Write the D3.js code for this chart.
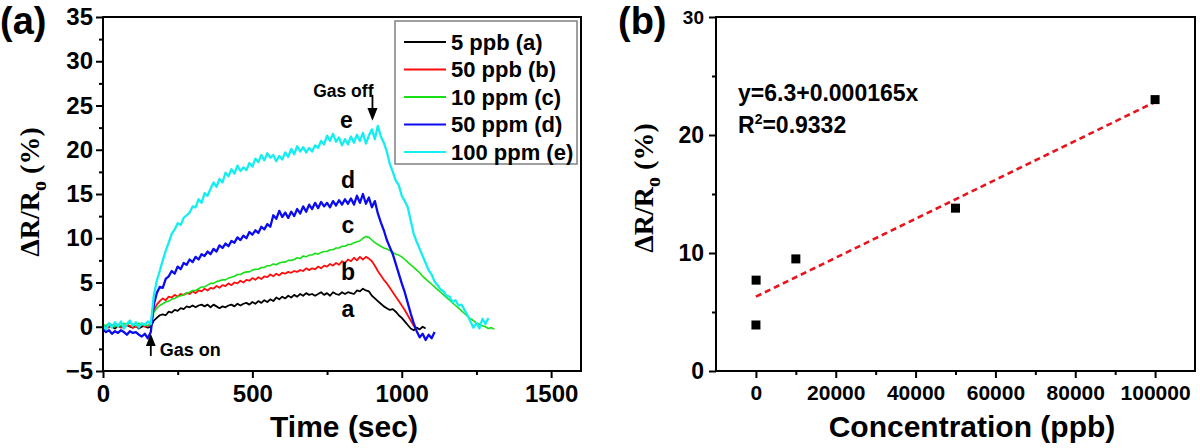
<!DOCTYPE html>
<html>
<head>
<meta charset="utf-8">
<script src="https://cdnjs.cloudflare.com/ajax/libs/d3/7.8.5/d3.min.js"></script>
<style>
  body { margin: 0; background: #fff; }
  svg { display: block; font-family: "Liberation Sans", Arial, sans-serif; font-weight: bold; }
</style>
</head>
<body>
<svg width="1200" height="448"></svg>
<script>
// ---- panel (a): response vs time, one value every 10 s from t = 0
var timeStep = 10
var seriesNames = ['5 ppb (a)', '50 ppb (b)', '10 ppm (c)', '50 ppm (d)', '100 ppm (e)']
var seriesColors = ['#000000', '#ff0d0d', '#16e016', '#0b0bf0', '#14eef0']
var seriesWidths = [1.8, 1.8, 1.6, 2.3, 2.3]
var curveLetters = ['a', 'b', 'c', 'd', 'e']
// where the small letters sit: [time, value]
var curveLetterPos = [[820, 1.1], [820, 5.3], [820, 10.6], [820, 15.7], [815, 22.5]]

var respA = [0.1,-0.1,0.2,0,-0.2,0.1,0,-0.1,0.2,0,-0.1,0.1,-0.2,0,0.1,-0.1,
  0.0,0.7,1.0,1.3,1.4,1.3,1.7,1.6,1.9,1.8,
  2.1,2.0,2.3,2.2,2.4,2.2,2.4,2.5,2.3,2.5,
  2.2,2.5,2.3,2.1,2.3,2.2,2.4,2.5,2.3,2.6,
  2.4,2.6,2.7,2.5,2.8,2.6,2.9,2.7,3.0,2.8,
  3.1,2.9,3.3,3.1,3.4,3.2,3.5,3.3,3.6,3.4,
  3.7,3.5,3.8,3.6,3.7,3.5,3.7,3.9,3.6,3.8,
  3.5,3.9,3.7,3.6,3.9,3.7,3.9,3.8,3.7,4.1,
  4.0,4.3,4.1,4.0,3.5,3.2,2.9,2.6,2.3,2.1,
  1.9,2.0,1.7,1.3,1.0,0.6,0.2,-0.2,-0.4,-0.1,
  -0.3,0.0,-0.2]

var respB = [0,0.1,-0.1,0.2,0,0.1,-0.1,0,0.2,0.1,-0.1,0,0.1,0.2,0,0.1,
  0.3,1.9,2.5,2.9,3.2,3.0,3.4,3.3,3.6,3.4,
  3.7,3.6,3.8,3.7,4.0,3.8,4.1,4.0,4.3,4.1,
  4.4,4.3,4.6,4.4,4.7,4.6,4.9,4.7,5.0,4.9,
  5.2,5.0,5.3,5.2,5.5,5.3,5.6,5.4,5.7,5.6,
  5.9,5.7,6.0,5.8,6.1,6.0,6.2,6.1,6.3,6.2,
  6.4,6.3,6.6,6.4,6.6,6.5,6.8,6.6,6.9,6.8,
  7.1,6.9,7.2,7.0,7.4,7.2,7.6,7.4,7.8,7.5,
  7.9,7.6,7.9,7.7,7.4,6.9,6.3,5.8,5.3,4.9,
  4.4,3.9,3.4,2.9,2.4,1.9,1.3,0.7,0.1,-0.4]

var respC = [0.3,0.1,0.4,0.2,0,0.3,0.1,0.4,0.2,0.5,0.3,0.1,0.4,0.2,0.3,0.1,
  0.3,1.6,2.1,2.4,2.6,2.8,2.9,3.1,3.2,3.4,
  3.5,3.6,3.8,3.9,4.1,4.1,4.3,4.5,4.5,4.7,
  4.9,4.9,5.1,5.2,5.3,5.3,5.5,5.6,5.7,5.9,
  5.9,6.1,6.2,6.2,6.4,6.5,6.5,6.7,6.7,6.9,
  6.9,7.1,7.0,7.2,7.3,7.3,7.5,7.5,7.6,7.8,
  7.7,8.0,7.9,8.1,8.1,8.3,8.2,8.4,8.5,8.5,
  8.7,8.7,8.9,8.9,9.1,9.1,9.3,9.3,9.5,9.6,
  9.7,10.0,10.2,10.1,9.8,9.5,9.3,9.1,8.9,8.8,
  8.6,8.4,8.2,8.1,7.9,7.6,7.3,7.0,6.7,6.4,
  6.1,5.7,5.4,5.1,4.8,4.5,4.2,3.9,3.6,3.3,
  3.0,2.7,2.4,2.1,1.8,1.5,1.2,0.9,0.7,0.4,
  0.3,0.1,0.0,-0.2,-0.1,-0.3]

var respD = [-0.3,-0.6,-0.4,-0.8,-0.5,-0.7,-0.4,-0.6,-0.9,-0.5,-0.7,-0.6,-0.9,-1.1,-0.8,-1.3,
  -0.6,2.5,3.8,4.5,4.4,5.4,5.7,6.3,6.0,6.8,
  6.5,7.2,7.0,7.6,7.3,7.9,7.6,8.2,8.0,8.5,
  8.2,8.8,8.5,9.2,8.9,9.4,9.1,9.7,9.5,10.1,
  9.8,10.3,10.0,10.7,10.4,10.9,10.6,11.3,11.0,11.6,
  11.3,12.6,12.2,13.1,12.4,12.9,12.3,13.0,12.5,13.3,
  12.8,13.6,13.0,13.8,13.3,14.0,13.4,14.1,13.6,14.0,
  13.5,14.2,13.7,14.3,13.8,14.4,13.9,14.5,13.8,14.8,
  14.0,15.0,13.9,14.6,13.5,14.2,12.8,11.8,10.9,9.8,
  9.0,8.2,7.1,6.0,4.9,3.9,2.7,1.5,0.4,-0.5,
  -1.2,-0.8,-1.5,-0.9,-1.3,-0.6]

var respE = [0.2,-0.3,0.4,-0.1,0.5,0.0,0.6,-0.2,0.3,0.7,0.1,0.5,-0.1,0.4,0.2,0.6,
  0.3,3.5,5.2,6.3,7.5,8.6,9.5,10.5,11.0,11.7,
  11.5,12.3,12.6,12.9,13.6,13.5,14.4,14.0,15.1,14.8,
  15.6,16.3,15.8,16.7,16.3,17.4,17.0,17.8,17.3,18.2,
  17.6,18.0,17.7,18.5,18.1,19.0,18.6,19.4,18.8,19.6,
  19.1,19.4,18.7,19.3,18.9,19.7,19.2,20.1,19.5,20.4,
  19.8,20.3,19.7,20.2,19.8,20.5,20.2,21.0,20.6,21.6,
  21.0,21.8,20.9,21.4,20.5,21.2,20.6,21.5,20.8,21.7,
  21.0,21.9,20.7,21.6,22.3,21.2,22.7,21.5,20.8,19.8,
  18.4,17.5,16.5,16.0,14.8,14.2,13.5,12.0,10.5,9.6,
  8.8,8.0,7.2,6.4,5.9,5.1,4.7,4.2,4.0,3.5,
  3.4,2.8,3.0,2.4,2.5,1.9,1.3,0.6,-0.1,0.4,
  -0.2,0.9,0.3,1.0]

var timeTicks = [0, 500, 1000, 1500]
var respTicks = [-5, 0, 5, 10, 15, 20, 25, 30, 35]
var gasOn = 160, gasOff = 902

// ---- panel (b): response vs concentration
var concentration = [5, 50, 10000, 50000, 100000]
var response = [3.9, 7.7, 9.5, 13.8, 23.0]
var fitIntercept = 6.3, fitSlope = 0.000165
var fitSpan = [0, 100000]
var concTicks = [0, 20000, 40000, 60000, 80000, 100000]
var concRespTicks = [0, 10, 20, 30]

var svg = d3.select('svg')
var plotTop = 17, plotBottom = 371

function tickStyle(g, size) {
  g.select('.domain').remove()
  g.selectAll('line').attr('stroke', '#000').attr('stroke-width', 2)
  g.selectAll('text').attr('font-size', size).attr('font-weight', 'bold')
    .attr('font-family', '"Liberation Sans", Arial, sans-serif').attr('fill', '#000')
}

function yTitle(x, y) {
  var t = svg.append('text')
    .attr('transform', 'translate(' + x + ',' + y + ') rotate(-90)')
    .attr('text-anchor', 'middle')
    .attr('font-family', '"Liberation Serif", "Times New Roman", serif')
    .attr('font-weight', 'bold').attr('font-size', 28)
  t.append('tspan').text('\u0394R/R')
  t.append('tspan').attr('dy', 7).attr('font-size', 20).text('o')
  t.append('tspan').attr('dy', -7).text(' (%)')
}

// ================= panel (a)
var xa = d3.scaleLinear().domain([0, 1600]).range([103, 581])
var ya = d3.scaleLinear().domain([-5, 35]).range([plotBottom, plotTop])

var minorTime = d3.range(250, 1600, 500)
var minorResp = d3.range(-2.5, 35, 5)

svg.append('g').attr('transform', 'translate(0,' + plotBottom + ')')
  .call(d3.axisBottom(xa).tickValues(minorTime).tickSize(4).tickFormat(''))
  .call(tickStyle, 0)
svg.append('g').attr('transform', 'translate(0,' + plotBottom + ')')
  .call(d3.axisBottom(xa).tickValues(timeTicks).tickSize(7).tickPadding(7).tickFormat(d3.format('d')))
  .call(tickStyle, 24)
svg.append('g').attr('transform', 'translate(103,0)')
  .call(d3.axisLeft(ya).tickValues(minorResp).tickSize(4).tickFormat(''))
  .call(tickStyle, 0)
svg.append('g').attr('transform', 'translate(103,0)')
  .call(d3.axisLeft(ya).tickValues(respTicks).tickSize(7).tickPadding(3).tickFormat(d3.format('d')))
  .call(tickStyle, 24)

var allSeries = [respA, respB, respC, respD, respE]
var line = d3.line()
  .x(function(d, i) { return xa(i * timeStep) })
  .y(function(d) { return ya(d) })

svg.append('g').selectAll('path')
  .data(allSeries)
  .enter()
  .append('path')
  .attr('d', function(d) { return line(d) })
  .attr('fill', 'none')
  .attr('stroke', function(d, i) { return seriesColors[i] })
  .attr('stroke-width', function(d, i) { return seriesWidths[i] })
  .attr('stroke-linejoin', 'round')

svg.append('rect')
  .attr('x', 103).attr('y', plotTop).attr('width', 581 - 103).attr('height', plotBottom - plotTop)
  .attr('fill', 'none').attr('stroke', '#000').attr('stroke-width', 2)

// legend
var legend = svg.append('g')
legend.append('rect')
  .attr('x', 395).attr('y', 21).attr('width', 182).attr('height', 143)
  .attr('fill', '#fff').attr('stroke', '#808080').attr('stroke-width', 1.5)
var rows = legend.selectAll('g.row')
  .data(seriesNames)
  .enter()
  .append('g').attr('class', 'row')
  .attr('transform', function(d, i) { return 'translate(0,' + (42 + i * 27.5) + ')' })
rows.append('line')
  .attr('x1', 404).attr('x2', 446)
  .attr('stroke', function(d, i) { return seriesColors[i] }).attr('stroke-width', 2)
rows.append('text')
  .attr('x', 451).attr('dy', '0.36em')
  .attr('font-size', 22).text(function(d) { return d })

// curve letters
svg.append('g').selectAll('text')
  .data(curveLetters)
  .enter()
  .append('text')
  .attr('x', function(d, i) { return xa(curveLetterPos[i][0]) })
  .attr('y', function(d, i) { return ya(curveLetterPos[i][1]) })
  .attr('text-anchor', 'middle').attr('font-size', 23)
  .text(function(d) { return d })

// gas on / gas off arrows
svg.append('defs').append('marker')
  .attr('id', 'head').attr('viewBox', '0 0 10 10')
  .attr('refX', 5).attr('refY', 5).attr('markerWidth', 7).attr('markerHeight', 9)
  .attr('orient', 'auto')
  .append('path').attr('d', 'M0,1 L10,5 L0,9 Z').attr('fill', '#000')

svg.append('line')
  .attr('x1', xa(gasOn)).attr('x2', xa(gasOn))
  .attr('y1', ya(-3.3)).attr('y2', ya(-1.5))
  .attr('stroke', '#000').attr('stroke-width', 1.8).attr('marker-end', 'url(#head)')
svg.append('text')
  .attr('x', xa(gasOn) + 9).attr('y', ya(-3.3))
  .attr('font-size', 18).text('Gas on')

svg.append('line')
  .attr('x1', xa(gasOff)).attr('x2', xa(gasOff))
  .attr('y1', ya(26.2)).attr('y2', ya(24.0))
  .attr('stroke', '#000').attr('stroke-width', 1.8).attr('marker-end', 'url(#head)')
svg.append('text')
  .attr('x', xa(gasOff) + 1).attr('y', 97)
  .attr('text-anchor', 'end')
  .attr('font-size', 17.5).text('Gas off')

svg.append('text')
  .attr('x', 344).attr('y', 437).attr('text-anchor', 'middle')
  .attr('font-size', 30).text('Time (sec)')
yTitle(39, 192)
svg.append('text').attr('x', 0).attr('y', 34).attr('font-size', 38).text('(a)')

// ================= panel (b)
var xb = d3.scaleLinear().domain([-10000, 110000]).range([716, 1195])
var yb = d3.scaleLinear().domain([0, 30]).range([plotBottom, plotTop])

svg.append('g').attr('transform', 'translate(0,' + plotBottom + ')')
  .call(d3.axisBottom(xb).tickValues(d3.range(10000, 100000, 20000)).tickSize(4).tickFormat(''))
  .call(tickStyle, 0)
svg.append('g').attr('transform', 'translate(0,' + plotBottom + ')')
  .call(d3.axisBottom(xb).tickValues(concTicks).tickSize(7).tickPadding(7).tickFormat(d3.format('d')))
  .call(tickStyle, 21)
svg.append('g').attr('transform', 'translate(716,0)')
  .call(d3.axisLeft(yb).tickValues([5, 15, 25]).tickSize(4).tickFormat(''))
  .call(tickStyle, 0)
var yAxisB = svg.append('g').attr('transform', 'translate(716,0)')
  .call(d3.axisLeft(yb).tickValues(concRespTicks).tickSize(7).tickPadding(5).tickFormat(d3.format('d')))
  .call(tickStyle, 23)
yAxisB.selectAll('.tick').filter(function(d) { return d === 30 }).select('text').attr('font-size', 19)

svg.append('line')
  .attr('x1', xb(fitSpan[0])).attr('x2', xb(fitSpan[1]))
  .attr('y1', yb(fitIntercept + fitSlope * fitSpan[0]))
  .attr('y2', yb(fitIntercept + fitSlope * fitSpan[1]))
  .attr('stroke', '#e8141c').attr('stroke-width', 2.6).attr('stroke-dasharray', '6,4')

svg.append('g').selectAll('rect')
  .data(concentration)
  .enter()
  .append('rect')
  .attr('x', function(d) { return xb(d) - 4.5 })
  .attr('y', function(d, i) { return yb(response[i]) - 4.5 })
  .attr('width', 9).attr('height', 9).attr('fill', '#000')

svg.append('rect')
  .attr('x', 716).attr('y', plotTop).attr('width', 1195 - 716).attr('height', plotBottom - plotTop)
  .attr('fill', 'none').attr('stroke', '#000').attr('stroke-width', 2)

svg.append('text').attr('x', 738).attr('y', 101).attr('font-size', 23)
  .text('y=' + fitIntercept + '+' + fitSlope.toFixed(6) + 'x')
var r2 = svg.append('text').attr('x', 738).attr('y', 133).attr('font-size', 23)
r2.append('tspan').text('R')
r2.append('tspan').attr('dy', -9).attr('font-size', 14).text('2')
r2.append('tspan').attr('dy', 9).text('=0.9332')

svg.append('text')
  .attr('x', 972).attr('y', 437).attr('text-anchor', 'middle')
  .attr('font-size', 30).text('Concentration (ppb)')
yTitle(653, 188)
svg.append('text').attr('x', 618).attr('y', 34).attr('font-size', 38).text('(b)')
</script>
</body>
</html>
